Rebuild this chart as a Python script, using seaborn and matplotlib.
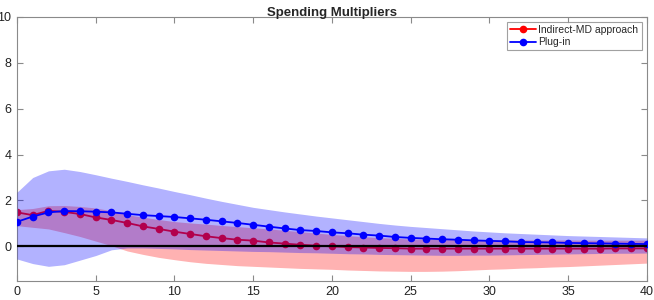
import numpy as np
import pandas as pd
import matplotlib
matplotlib.use("Agg")
import matplotlib.pyplot as plt
import seaborn as sns

# horizons 0..40
horizon = list(range(41))

# Indirect-MD approach: point estimate and band
indirect_md = [1.48, 1.36, 1.55, 1.50, 1.41, 1.26, 1.15, 1.02, 0.87, 0.76,
               0.64, 0.54, 0.44, 0.36, 0.29, 0.25, 0.17, 0.12, 0.07, 0.03,
               0.00, -0.03, -0.05, -0.07, -0.08, -0.10, -0.10, -0.10, -0.10, -0.10,
               -0.10, -0.10, -0.10, -0.10, -0.10, -0.10, -0.10, -0.10, -0.09, -0.09,
               -0.09]
indirect_hi = [1.60, 1.65, 1.77, 1.78, 1.74, 1.67, 1.55, 1.38, 1.27, 1.17,
               1.08, 1.02, 0.97, 0.91, 0.86, 0.81, 0.76, 0.70, 0.64, 0.58,
               0.52, 0.47, 0.42, 0.38, 0.35, 0.32, 0.31, 0.30, 0.30, 0.30,
               0.29, 0.29, 0.29, 0.28, 0.28, 0.28, 0.27, 0.27, 0.27, 0.27,
               0.27]
indirect_lo = [0.90, 0.83, 0.76, 0.60, 0.43, 0.23, 0.03, -0.20, -0.35, -0.48,
               -0.58, -0.67, -0.74, -0.79, -0.84, -0.87, -0.90, -0.93, -0.96, -0.98,
               -1.00, -1.03, -1.05, -1.07, -1.08, -1.09, -1.09, -1.08, -1.06, -1.03,
               -1.00, -0.98, -0.95, -0.93, -0.90, -0.88, -0.85, -0.82, -0.79, -0.76,
               -0.73]

# Plug-in: point estimate and band
plug_in = [1.07, 1.30, 1.48, 1.54, 1.53, 1.51, 1.48, 1.42, 1.36, 1.32,
           1.28, 1.22, 1.16, 1.09, 1.02, 0.94, 0.86, 0.78, 0.71, 0.67,
           0.61, 0.57, 0.51, 0.47, 0.41, 0.37, 0.34, 0.31, 0.29, 0.26,
           0.24, 0.22, 0.19, 0.18, 0.17, 0.15, 0.14, 0.13, 0.12, 0.11,
           0.10]
plug_hi = [2.36, 3.00, 3.29, 3.36, 3.26, 3.12, 2.97, 2.83, 2.68, 2.54,
           2.39, 2.25, 2.10, 1.96, 1.83, 1.70, 1.60, 1.50, 1.41, 1.32,
           1.24, 1.16, 1.08, 1.00, 0.93, 0.87, 0.82, 0.77, 0.72, 0.67,
           0.63, 0.59, 0.56, 0.53, 0.50, 0.47, 0.45, 0.43, 0.41, 0.39,
           0.37]
plug_lo = [-0.55, -0.75, -0.87, -0.80, -0.60, -0.40, -0.15, -0.07, -0.07, -0.09,
           -0.11, -0.14, -0.16, -0.18, -0.20, -0.22, -0.23, -0.25, -0.27, -0.28,
           -0.30, -0.32, -0.33, -0.35, -0.36, -0.37, -0.38, -0.39, -0.39, -0.38,
           -0.38, -0.37, -0.36, -0.35, -0.34, -0.33, -0.32, -0.31, -0.30, -0.30,
           -0.29]

df = pd.DataFrame({"h": horizon, "indirect": indirect_md, "plug": plug_in})

sns.set_theme(style="white")
plt.rcParams["font.family"] = ["Liberation Sans", "DejaVu Sans"]

fig = plt.figure(figsize=(6.54, 3.0), dpi=100)
ax = fig.add_axes([0.026, 0.064, 0.963, 0.880])

# red band and line first, blue band drawn over it (gives the purple overlap)
ax.fill_between(horizon, indirect_lo, indirect_hi, color="red", alpha=0.3, lw=0, zorder=1)
sns.lineplot(data=df, x="h", y="indirect", color="red", marker="o", markersize=5.5,
             markeredgewidth=0, linewidth=1.3, label="Indirect-MD approach", ax=ax, zorder=2)
ax.fill_between(horizon, plug_lo, plug_hi, color="blue", alpha=0.3, lw=0, zorder=3)
sns.lineplot(data=df, x="h", y="plug", color="blue", marker="o", markersize=5.5,
             markeredgewidth=0, linewidth=1.3, label="Plug-in", ax=ax, zorder=4)
ax.axhline(0, color="black", linewidth=1.6, zorder=5)

ax.set_xlim(0, 40)
ax.set_ylim(-1.5, 10)
ax.set_xticks(range(0, 41, 5))
ax.set_yticks(range(0, 11, 2))
ax.set_xlabel("")
ax.set_ylabel("")
ax.set_title("Spending Multipliers", fontsize=9.5, fontweight="bold", pad=0.5)

for s in ax.spines.values():
    s.set_color("#8a8a8a")
    s.set_linewidth(0.8)
ax.tick_params(direction="in", length=4, width=0.8, color="#8a8a8a",
               labelsize=9, labelcolor="#222222", top=True, right=True,
               bottom=True, left=True, pad=4)

leg = ax.legend(loc="upper right", fontsize=7.5, frameon=True, fancybox=False,
                borderpad=0.3, handlelength=2.5, handletextpad=0.2,
                labelspacing=0.2, borderaxespad=0.5)
leg.get_frame().set_edgecolor("#8a8a8a")
leg.get_frame().set_linewidth(0.8)

fig.savefig("out.png", dpi=100)
